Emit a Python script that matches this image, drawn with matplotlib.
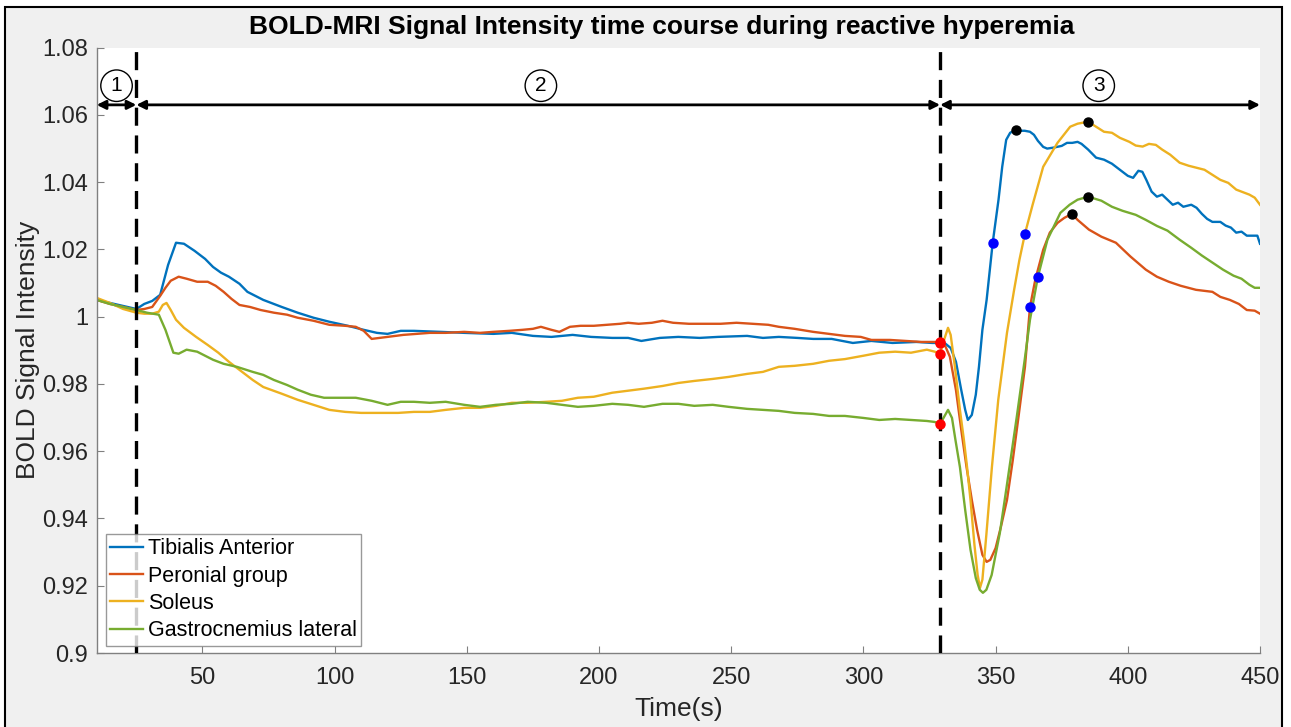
import matplotlib
matplotlib.use("Agg")
import matplotlib.pyplot as plt
from matplotlib.patches import Rectangle

plt.rcParams['font.family'] = ['Liberation Sans', 'DejaVu Sans']
plt.rcParams['lines.scale_dashes'] = False

# ---------------- data ----------------
series_names = ["Tibialis Anterior", "Peronial group", "Soleus", "Gastrocnemius lateral"]
series_colors = ["#0072BD", "#D95319", "#EDB120", "#77AC30"]

ta_t = [10, 15, 20, 25, 28, 31, 34, 37, 40, 43, 47, 51, 54, 57, 60, 64, 67, 70, 73, 80, 86, 92, 98,
        105, 111, 116, 120, 125, 130, 140, 149, 160, 167, 175, 182, 190, 197, 205, 211, 216, 223, 230,
        238, 245, 256, 262, 268, 275, 281, 288, 296, 303, 311, 320, 326, 329,
        331, 333, 335, 337, 338.5, 339.5, 341, 342.5, 343.7, 345, 346.6, 348.9, 351.1, 352.5, 354,
        355.5, 357.6, 359, 361, 363, 364.5, 366, 368, 369.5, 372, 375, 377, 379, 381, 382.5, 385,
        388, 391, 394, 397, 400, 402, 404, 405.5, 407, 409, 411, 413, 415, 417, 419, 421, 424, 426,
        428, 430, 432, 435, 437, 439, 441, 443, 445, 447, 449, 450]
ta_v = [1.0050, 1.0041, 1.0032, 1.0023, 1.0038, 1.0047, 1.0065, 1.0154, 1.0220, 1.0217, 1.0196,
        1.0172, 1.0148, 1.0131, 1.0119, 1.0098, 1.0074, 1.0062, 1.0050, 1.0029, 1.0012, 0.9997,
        0.9985, 0.9973, 0.9961, 0.9952, 0.9949, 0.9958, 0.9958, 0.9955, 0.9952, 0.9949, 0.9952,
        0.9943, 0.9940, 0.9946, 0.9940, 0.9937, 0.9937, 0.9928, 0.9937, 0.9940, 0.9937, 0.9940,
        0.9943, 0.9937, 0.9940, 0.9937, 0.9934, 0.9934, 0.9922, 0.9928, 0.9922, 0.9925, 0.9922,
        0.9922,
        0.9920, 0.9907, 0.9866, 0.9782, 0.9723, 0.9693, 0.9708, 0.9768, 0.9851, 0.9961, 1.0050,
        1.0220, 1.0348, 1.0446, 1.0526, 1.0547, 1.0556, 1.0553, 1.0553, 1.0550, 1.0541, 1.0523,
        1.0505, 1.0500, 1.0503, 1.0508, 1.0517, 1.0517, 1.0520, 1.0514, 1.0497, 1.0473, 1.0467,
        1.0455, 1.0437, 1.0419, 1.0413, 1.0434, 1.0431, 1.0407, 1.0372, 1.0357, 1.0363, 1.0348,
        1.0333, 1.0339, 1.0327, 1.0333, 1.0324, 1.0306, 1.0291, 1.0282, 1.0282, 1.0271, 1.0265,
        1.0250, 1.0253, 1.0241, 1.0241, 1.0241, 1.0217]

pg_t = [10, 15, 20, 25, 28, 31, 34, 36, 38, 41, 44, 48, 52, 55, 58, 61, 64, 68, 72, 77, 82, 86, 92,
        98, 104, 108, 111, 114, 117, 120, 126, 131, 136, 142, 149, 155, 160, 166, 171, 175, 178, 182,
        185, 189, 193, 198, 203, 208, 211, 215, 220, 224, 228, 234, 240, 246, 252, 258, 264, 268, 274,
        281, 287, 293, 299, 303, 310, 316, 322, 327, 329,
        331, 332.7, 335, 337, 339, 341, 343, 345, 346.6, 348, 350, 352, 354.3, 356.5, 358.5, 361.1,
        363, 365, 368, 370.5, 373.4, 376, 378.9, 381, 385.3, 390, 395.5, 401, 406.8, 411, 415.5, 420,
        425.8, 432, 435, 438.6, 442, 445, 448, 450]
pg_v = [1.0050, 1.0038, 1.0029, 1.0020, 1.0023, 1.0029, 1.0062, 1.0086, 1.0107, 1.0119, 1.0113,
        1.0104, 1.0104, 1.0092, 1.0074, 1.0053, 1.0035, 1.0029, 1.0020, 1.0012, 1.0006, 0.9997,
        0.9988, 0.9976, 0.9973, 0.9970, 0.9958, 0.9934, 0.9937, 0.9940, 0.9946, 0.9949, 0.9952,
        0.9952, 0.9955, 0.9952, 0.9955, 0.9958, 0.9961, 0.9964, 0.9970, 0.9961, 0.9955, 0.9970,
        0.9973, 0.9973, 0.9976, 0.9979, 0.9982, 0.9979, 0.9982, 0.9988, 0.9982, 0.9979, 0.9979,
        0.9979, 0.9982, 0.9979, 0.9976, 0.9970, 0.9964, 0.9955, 0.9949, 0.9943, 0.9940, 0.9931,
        0.9931, 0.9928, 0.9925, 0.9925, 0.9925,
        0.9912, 0.9881, 0.9782, 0.9664, 0.9553, 0.9455, 0.9366, 0.9292, 0.9271, 0.9277, 0.9312,
        0.9375, 0.9455, 0.9574, 0.9693, 0.9851, 1.0029, 1.0110, 1.0199, 1.0250, 1.0279, 1.0294,
        1.0306, 1.0288, 1.0259, 1.0238, 1.0220, 1.0179, 1.0140, 1.0119, 1.0104, 1.0092, 1.0080,
        1.0074, 1.0059, 1.0050, 1.0038, 1.0020, 1.0018, 1.0009]

so_t = [10, 15, 20, 25, 28, 31, 33.5, 35, 36.4, 38, 40, 43, 47.6, 52, 56, 60, 65, 69, 73, 80, 86, 92,
        98, 104, 110, 117, 124, 130, 136, 142, 149, 155, 161, 167, 173, 180, 186, 192, 198, 205, 211,
        217, 224, 230, 236, 243, 249, 256, 262, 268, 274, 281, 287, 293, 300, 306, 312, 318, 324, 327,
        329,
        330.5, 332, 333, 334.6, 336.5, 338, 339.2, 340.5, 342, 343.2, 344.1, 345, 346.5, 348.6, 351,
        354.3, 357, 359, 361.1, 364, 368, 373.4, 378.2, 381, 385, 388, 391, 394, 397, 400.6, 403,
        405.6, 408, 410.6, 413, 416, 419.6, 423, 426, 429, 432, 435, 438, 441, 444, 446, 448, 450]
so_v = [1.0056, 1.0041, 1.0023, 1.0012, 1.0009, 1.0009, 1.0015, 1.0035, 1.0041, 1.0020, 0.9991,
        0.9967, 0.9940, 0.9916, 0.9893, 0.9866, 0.9836, 0.9812, 0.9791, 0.9771, 0.9753, 0.9738,
        0.9723, 0.9717, 0.9714, 0.9714, 0.9714, 0.9717, 0.9717, 0.9723, 0.9729, 0.9729, 0.9735,
        0.9744, 0.9744, 0.9747, 0.9750, 0.9759, 0.9762, 0.9774, 0.9780, 0.9786, 0.9794, 0.9803,
        0.9809, 0.9815, 0.9821, 0.9830, 0.9836, 0.9851, 0.9854, 0.9860, 0.9869, 0.9874, 0.9884,
        0.9893, 0.9896, 0.9893, 0.9902, 0.9896, 0.9890,
        0.9931, 0.9967, 0.9946, 0.9851, 0.9723, 0.9634, 0.9553, 0.9455, 0.9321, 0.9232, 0.9194,
        0.9218, 0.9352, 0.9553, 0.9753, 0.9952, 1.0080, 1.0169, 1.0247, 1.0333, 1.0446, 1.0517,
        1.0565, 1.0574, 1.0580, 1.0565, 1.0550, 1.0547, 1.0532, 1.0520, 1.0509, 1.0506, 1.0514,
        1.0511, 1.0497, 1.0482, 1.0458, 1.0449, 1.0443, 1.0437, 1.0422, 1.0407, 1.0398, 1.0378,
        1.0369, 1.0363, 1.0354, 1.0333]

gl_t = [10, 15, 20, 25, 29, 33.5, 36, 39, 41, 44, 48, 51, 54, 58, 63, 69, 73, 77, 82, 86, 91, 96, 102,
        108, 114, 120, 125, 130, 136, 142, 149, 155, 161, 167, 173, 180, 186, 192, 198, 205, 211, 217,
        224, 230, 236, 243, 249, 256, 262, 268, 274, 281, 287, 293, 300, 306, 312, 318, 324, 327, 329,
        330.5, 332, 333.5, 334.8, 336.5, 338.5, 340.5, 342.5, 344, 345.2, 346.5, 348.5, 351.6, 354,
        358, 361, 363, 366, 369.6, 374.5, 378, 381, 385, 390, 394, 398, 403, 406.8, 411, 415, 419.6,
        424, 428, 432, 436, 440, 443, 446, 448, 450]
gl_v = [1.0050, 1.0038, 1.0029, 1.0020, 1.0012, 1.0006, 0.9961, 0.9893, 0.9890, 0.9902, 0.9896,
        0.9884, 0.9872, 0.9860, 0.9851, 0.9836, 0.9827, 0.9812, 0.9797, 0.9783, 0.9768, 0.9759,
        0.9759, 0.9759, 0.9750, 0.9738, 0.9747, 0.9747, 0.9744, 0.9747, 0.9738, 0.9732, 0.9738,
        0.9741, 0.9747, 0.9744, 0.9738, 0.9732, 0.9735, 0.9741, 0.9738, 0.9732, 0.9741, 0.9741,
        0.9735, 0.9738, 0.9732, 0.9726, 0.9723, 0.9720, 0.9714, 0.9711, 0.9705, 0.9705, 0.9699,
        0.9693, 0.9696, 0.9693, 0.9690, 0.9687, 0.9681,
        0.9702, 0.9723, 0.9699, 0.9634, 0.9553, 0.9425, 0.9307, 0.9223, 0.9188, 0.9179, 0.9188,
        0.9232, 0.9357, 0.9485, 0.9702, 0.9872, 0.9991, 1.0119, 1.0229, 1.0309, 1.0333, 1.0348,
        1.0357, 1.0345, 1.0327, 1.0315, 1.0303, 1.0288, 1.0270, 1.0256, 1.0229, 1.0205, 1.0182,
        1.0161, 1.0140, 1.0122, 1.0113, 1.0095, 1.0086, 1.0086]

# event markers
red_t = [329, 329, 329, 329]
red_v = [0.9922, 0.9925, 0.9890, 0.9681]
blue_t = [348.9, 363.0, 361.1, 366.0]
blue_v = [1.0220, 1.0029, 1.0247, 1.0119]
black_t = [357.6, 378.9, 385.0, 385.0]
black_v = [1.0556, 1.0306, 1.0580, 1.0357]

# phases
phase_bounds = [10, 25, 329, 450]
phase_labels = ["1", "2", "3"]
phase_label_t = [17.5, 178, 389]
arrow_level = 1.0630
label_level = 1.0687

xticks = [50, 100, 150, 200, 250, 300, 350, 400, 450]
yticks = [0.9, 0.92, 0.94, 0.96, 0.98, 1.0, 1.02, 1.04, 1.06, 1.08]
ytick_labels = ["0.9", "0.92", "0.94", "0.96", "0.98", "1", "1.02", "1.04", "1.06", "1.08"]

title = "BOLD-MRI Signal Intensity time course during reactive hyperemia"
xlabel = "Time(s)"
ylabel = "BOLD Signal Intensity"

# ---------------- figure ----------------
W, H = 1291, 727
fig = plt.figure(figsize=(W / 100, H / 100), dpi=100, facecolor="white")
fig.patches.append(Rectangle((5 / W, -0.02), (1282 - 5) / W, 1 - 7 / H + 0.02,
                             transform=fig.transFigure, facecolor="#f0f0f0",
                             edgecolor="black", linewidth=1.5, zorder=-10))

ax = fig.add_axes([96.7 / W, 1 - 653 / H, (1260 - 96.7) / W, (653 - 47.7) / H])
ax.set_facecolor("white")

for t, v, c, n in zip([ta_t, pg_t, so_t, gl_t], [ta_v, pg_v, so_v, gl_v], series_colors, series_names):
    ax.plot(t, v, color=c, lw=1.7, label=n, solid_joinstyle="round")

ax.plot(red_t, red_v, "o", color="red", ms=6.5, zorder=5)
ax.plot(blue_t, blue_v, "o", color="blue", ms=6.5, zorder=5)
ax.plot(black_t, black_v, "o", color="black", ms=6.5, zorder=5)

for xb in phase_bounds[1:3]:
    ln = ax.axvline(xb, color="black", lw=2.4, zorder=4)
    ln.set_dashes((13, 7))

for i in range(3):
    ax.annotate("", xy=(phase_bounds[i + 1], arrow_level), xytext=(phase_bounds[i], arrow_level),
                arrowprops=dict(arrowstyle="<|-|>", color="black", lw=2.0,
                                mutation_scale=13, shrinkA=0, shrinkB=0), zorder=6)
    ax.text(phase_label_t[i], label_level, phase_labels[i], ha="center", va="center",
            fontsize=15, color="black",
            bbox=dict(boxstyle="circle,pad=0.3", fc="white", ec="black", lw=1.0))

ax.set_xlim(10, 450)
ax.set_ylim(0.9, 1.08)
ax.set_xticks(xticks)
ax.set_xticklabels([str(x) for x in xticks])
ax.set_yticks(yticks)
ax.set_yticklabels(ytick_labels)
ax.tick_params(direction="in", length=5, width=0.8, color="#808080", labelsize=17,
               labelcolor="#262626")
ax.tick_params(axis="x", pad=10)
ax.tick_params(axis="y", pad=6)
for s in ["top", "right"]:
    ax.spines[s].set_visible(False)
for s in ["left", "bottom"]:
    ax.spines[s].set_color("#808080")
    ax.spines[s].set_linewidth(1.0)

ax.set_xlabel(xlabel, fontsize=19, color="#262626", labelpad=6)
ax.set_ylabel(ylabel, fontsize=19, color="#262626", labelpad=2)

fig.text(662 / W, 1 - 27 / H, title, ha="center", va="center", fontsize=19,
         fontweight="bold", color="black")

leg = ax.legend(loc="lower left", bbox_to_anchor=(0.008, 0.012), borderaxespad=0,
                fontsize=15.5, frameon=True, fancybox=False, edgecolor="#808080",
                handlelength=1.5, handletextpad=0.25, labelspacing=0.3, borderpad=0.2)
leg.get_frame().set_linewidth(1.0)
leg.get_frame().set_facecolor("white")

fig.savefig("out.png", dpi=100, facecolor=fig.get_facecolor())
